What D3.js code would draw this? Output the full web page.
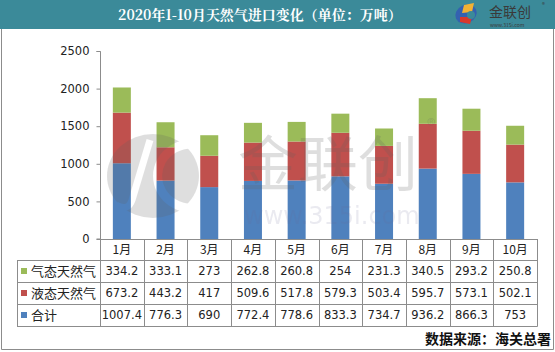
<!DOCTYPE html>
<html>
<head>
<meta charset="utf-8">
<script src="https://cdn.jsdelivr.net/npm/d3@7"></script>
<style>
  html, body { margin: 0; padding: 0; background: #fff; }
  svg { display: block; font-family: "Noto Sans CJK SC", "DejaVu Sans", sans-serif; }
</style>
</head>
<body>
<div id="chart"></div>
<script>
// data ---------------------------------------------------------------
const months = ['1月', '2月', '3月', '4月', '5月', '6月', '7月', '8月', '9月', '10月'];
const seriesNames = ['气态天然气', '液态天然气', '合计'];
const gasValues = [334.2, 333.1, 273, 262.8, 260.8, 254, 231.3, 340.5, 293.2, 250.8];
const lngValues = [673.2, 443.2, 417, 509.6, 517.8, 579.3, 503.4, 595.7, 573.1, 502.1];
const totalValues = [1007.4, 776.3, 690, 772.4, 778.6, 833.3, 734.7, 936.2, 866.3, 753];
const yTicks = [0, 500, 1000, 1500, 2000, 2500];

const W = 555, H = 352;
const colors = { '气态天然气': '#9bbb59', '液态天然气': '#c0504d', '合计': '#4f81bd' };
const lineCol = '#8c8c8c';

const svg = d3.select('#chart').append('svg')
    .attr('width', W)
    .attr('height', H);

// title bar
svg.append('rect')
    .attr('x', 0).attr('y', 0)
    .attr('width', W).attr('height', 29)
    .attr('fill', '#3b8a99');
svg.append('text')
    .attr('x', 260).attr('y', 20)
    .attr('text-anchor', 'middle')
    .attr('fill', '#fff')
    .attr('font-size', 14)
    .attr('font-weight', 'bold')
    .attr('font-family', '"Noto Serif CJK SC", "Noto Sans CJK SC", serif')
    .text('2020年1-10月天然气进口变化（单位：万吨）');

// little logo at the top right
const logo = svg.append('g').attr('transform', 'translate(466,14)');
logo.append('ellipse').attr('rx', 11).attr('ry', 9).attr('fill', '#3461b0')
    .attr('transform', 'rotate(-25)');
logo.append('path').attr('d', 'M-2,-9 L8,-11 L6,-2 L-4,-1 Z').attr('fill', '#f2b233');
logo.append('path').attr('d', 'M-6,3 L6,3 L4,10 L-6,8 Z').attr('fill', '#d8392b');
logo.append('circle').attr('cx', 5).attr('cy', 1).attr('r', 4).attr('fill', '#3b8a99');
svg.append('text')
    .attr('x', 489).attr('y', 17)
    .attr('fill', '#3a3a3a')
    .attr('font-size', 14)
    .text('金联创');
svg.append('text')
    .attr('x', 542).attr('y', 7)
    .attr('fill', '#3a3a3a')
    .attr('font-size', 6)
    .text('®');
svg.append('text')
    .attr('x', 490).attr('y', 27)
    .attr('fill', '#3a3a3a')
    .attr('font-size', 5)
    .text('www.315i.com');

// outer frame
svg.append('path')
    .attr('d', `M1.5,29 V349.5 H553.5 V29`)
    .attr('fill', 'none')
    .attr('stroke', lineCol);

// scales
const x = d3.scaleBand().domain(months).range([100, 537]).paddingInner(0).paddingOuter(0);
const y = d3.scaleLinear().domain([0, 2500]).range([239, 51]);
const barW = 18;

// stacked bars (bottom to top: 合计, 液态, 气态)
const rows = months.map((m, i) => ({
  month: m,
  '合计': totalValues[i],
  '液态天然气': lngValues[i],
  '气态天然气': gasValues[i]
}));
const stack = d3.stack().keys(['合计', '液态天然气', '气态天然气']);
const layers = stack(rows);

svg.append('g').selectAll('g')
  .data(layers)
  .join('g')
    .attr('fill', d => colors[d.key])
  .selectAll('rect')
  .data(d => d)
  .join('rect')
    .attr('x', d => x(d.data.month) + (x.bandwidth() - barW) / 2)
    .attr('y', d => y(d[1]))
    .attr('width', barW)
    .attr('height', d => y(d[0]) - y(d[1]));

// watermark: semi-transparent, laid over the bars
const mask = svg.append('defs').append('mask').attr('id', 'wmMask');
mask.append('rect').attr('width', W).attr('height', H).attr('fill', '#fff');
mask.append('path')
    .attr('d', 'M208,148 A34,32 0 1,0 208,204')
    .attr('fill', 'none')
    .attr('stroke', '#000')
    .attr('stroke-width', 9);
mask.append('path')
    .attr('d', 'M150,140 L132,200 Q128,212 116,205')
    .attr('fill', 'none')
    .attr('stroke', '#000')
    .attr('stroke-width', 7);

const wm = svg.append('g').attr('fill', '#606060').attr('opacity', 0.2);
wm.append('ellipse')
    .attr('cx', 153).attr('cy', 176)
    .attr('rx', 46).attr('ry', 42)
    .attr('mask', 'url(#wmMask)');
wm.append('text')
    .attr('x', 238).attr('y', 186)
    .attr('font-size', 60)
    .text('金联创');
wm.append('text')
    .attr('x', 427).attr('y', 132)
    .attr('font-size', 18)
    .text('®');
wm.append('text')
    .attr('x', 244).attr('y', 224)
    .attr('font-size', 24)
    .attr('font-family', '"DejaVu Sans", sans-serif')
    .attr('fill', '#6a6a98')
    .attr('opacity', 0.7)
    .text('www.315i.com');

// y axis
const yAxis = svg.append('g')
    .attr('transform', 'translate(100.5,0)')
    .call(d3.axisLeft(y).tickValues(yTicks).tickFormat(d3.format('d')).tickSize(4).tickPadding(7));
yAxis.select('.domain').attr('stroke', lineCol);
yAxis.selectAll('.tick line').attr('stroke', lineCol);
yAxis.selectAll('.tick text')
    .attr('fill', '#222')
    .attr('font-family', '"DejaVu Sans", sans-serif')
    .style('font-size', '11.5px');
yAxis.select('.domain').attr('d', `M-4,${y(2500) + 0.5}H0V${y(0)}H-4`);

// data table
const rowTop = [239, 260, 282, 304];
const tableBottom = 326;
const legendLeft = 17;
const tbl = svg.append('g');
const tableRows = [
  { name: seriesNames[0], values: gasValues },
  { name: seriesNames[1], values: lngValues },
  { name: seriesNames[2], values: totalValues }
];

// horizontal lines
tbl.append('line')
    .attr('x1', 100).attr('x2', 537.5)
    .attr('y1', 239.5).attr('y2', 239.5)
    .attr('stroke', lineCol);
[260, 282, 304, 326].forEach(yy => {
  tbl.append('line')
      .attr('x1', legendLeft).attr('x2', 537.5)
      .attr('y1', yy + 0.5).attr('y2', yy + 0.5)
      .attr('stroke', lineCol);
});
// vertical lines
months.forEach(m => {
  tbl.append('line')
      .attr('x1', Math.round(x(m)) + 0.5).attr('x2', Math.round(x(m)) + 0.5)
      .attr('y1', 239).attr('y2', tableBottom + 0.5)
      .attr('stroke', lineCol);
});
tbl.append('line')
    .attr('x1', 537.5).attr('x2', 537.5)
    .attr('y1', 239).attr('y2', tableBottom + 0.5)
    .attr('stroke', lineCol);
tbl.append('line')
    .attr('x1', legendLeft + 0.5).attr('x2', legendLeft + 0.5)
    .attr('y1', 260).attr('y2', tableBottom + 0.5)
    .attr('stroke', lineCol);

// month labels
tbl.selectAll('text.month')
  .data(months)
  .join('text')
    .attr('class', 'month')
    .attr('x', d => x(d) + x.bandwidth() / 2)
    .attr('y', 254)
    .attr('text-anchor', 'middle')
    .attr('fill', '#222')
    .attr('font-size', 12)
    .text(d => d);

// series rows
tableRows.forEach((r, ri) => {
  const top = rowTop[ri + 1];
  const mid = top + 11;
  tbl.append('rect')
      .attr('x', 21).attr('y', mid - 3)
      .attr('width', 6).attr('height', 6)
      .attr('fill', colors[r.name]);
  tbl.append('text')
      .attr('x', 31).attr('y', mid + 5)
      .attr('fill', '#222')
      .attr('font-size', 13)
      .text(r.name);
  tbl.selectAll(null)
    .data(r.values)
    .join('text')
      .attr('x', (d, i) => x(months[i]) + x.bandwidth() / 2)
      .attr('y', mid + 4)
      .attr('text-anchor', 'middle')
      .attr('fill', '#222')
      .attr('font-size', 11.5)
      .attr('font-family', '"DejaVu Sans", sans-serif')
      .text(d => d);
});

// source note
svg.append('text')
    .attr('x', 551).attr('y', 344)
    .attr('text-anchor', 'end')
    .attr('fill', '#111')
    .attr('font-size', 14)
    .attr('font-weight', 'bold')
    .text('数据来源：海关总署');
</script>
</body>
</html>
